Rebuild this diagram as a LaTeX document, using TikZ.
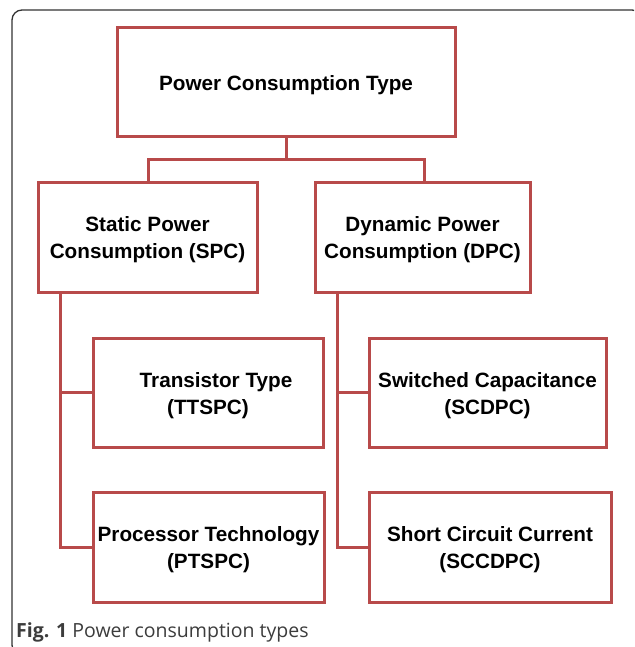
\documentclass[tikz,border=0pt]{standalone}
\usepackage{fontspec}
\setmainfont{Liberation Sans}
\newfontfamily\capfont{Open Sans}
\definecolor{boxred}{RGB}{184,74,74}
\definecolor{framegray}{RGB}{50,50,50}
\definecolor{capgray}{RGB}{60,60,60}
\newcommand\tpstrut{\rule{0pt}{21pt}}
\begin{document}
\begin{tikzpicture}[x=1pt,y=-1pt,
  pbox/.style={draw=boxred,line width=3pt,fill=white,rectangle,inner sep=0pt,
    font=\fontsize{20.7}{27}\selectfont\bfseries,align=center},
  conn/.style={draw=boxred,line width=3pt}]
\useasboundingbox (0,0) rectangle (634,647);
\begin{scope}
\clip (0,0) rectangle (634,647);
\draw[framegray,line width=1.3pt,rounded corners=10pt] (12,10) rectangle (642,655);
\end{scope}
\node[pbox,minimum width=338pt,minimum height=109pt] (top) at (286,82.5) {\tpstrut Power Consumption Type};
\node[pbox,minimum width=219pt,minimum height=110pt] (spc) at (147.5,237) {\tpstrut Static Power\\Consumption (SPC)};
\node[pbox,minimum width=215pt,minimum height=110pt] (dpc) at (422.5,237) {\tpstrut Dynamic Power\\Consumption (DPC)};
\node[pbox,minimum width=230pt,minimum height=109pt] (tt) at (208,392.5) {\tpstrut\hspace*{16pt}Transistor Type\\(TTSPC)};
\node[pbox,minimum width=231pt,minimum height=110pt] (pt) at (208.5,547) {\tpstrut Processor Technology\\(PTSPC)};
\node[pbox,minimum width=237pt,minimum height=109pt] (sc) at (487.5,392.5) {\tpstrut Switched Capacitance\\(SCDPC)};
\node[pbox,minimum width=242pt,minimum height=110pt] (scc) at (490,547) {\tpstrut Short Circuit Current\\(SCCDPC)};
\coordinate (j) at (286,160);
\draw[conn] (top.south) -- (j);
\draw[conn] (spc.north -| 148,0) |- (j) -| (dpc.north -| 424,0);
\coordinate (sv) at (60,292);
\coordinate (dv) at (337,292);
\draw[conn] (sv) |- (pt.west);
\draw[conn] (sv |- tt.west) -- (tt.west);
\draw[conn] (dv) |- (scc.west);
\draw[conn] (dv |- sc.west) -- (sc.west);
\node[anchor=base west,inner sep=0pt,text=capgray,font=\capfont\fontsize{19.5}{21}\selectfont] (cap) at (16,637) {\textbf{Fig. 1} Power consumption types};
\end{tikzpicture}
\end{document}
